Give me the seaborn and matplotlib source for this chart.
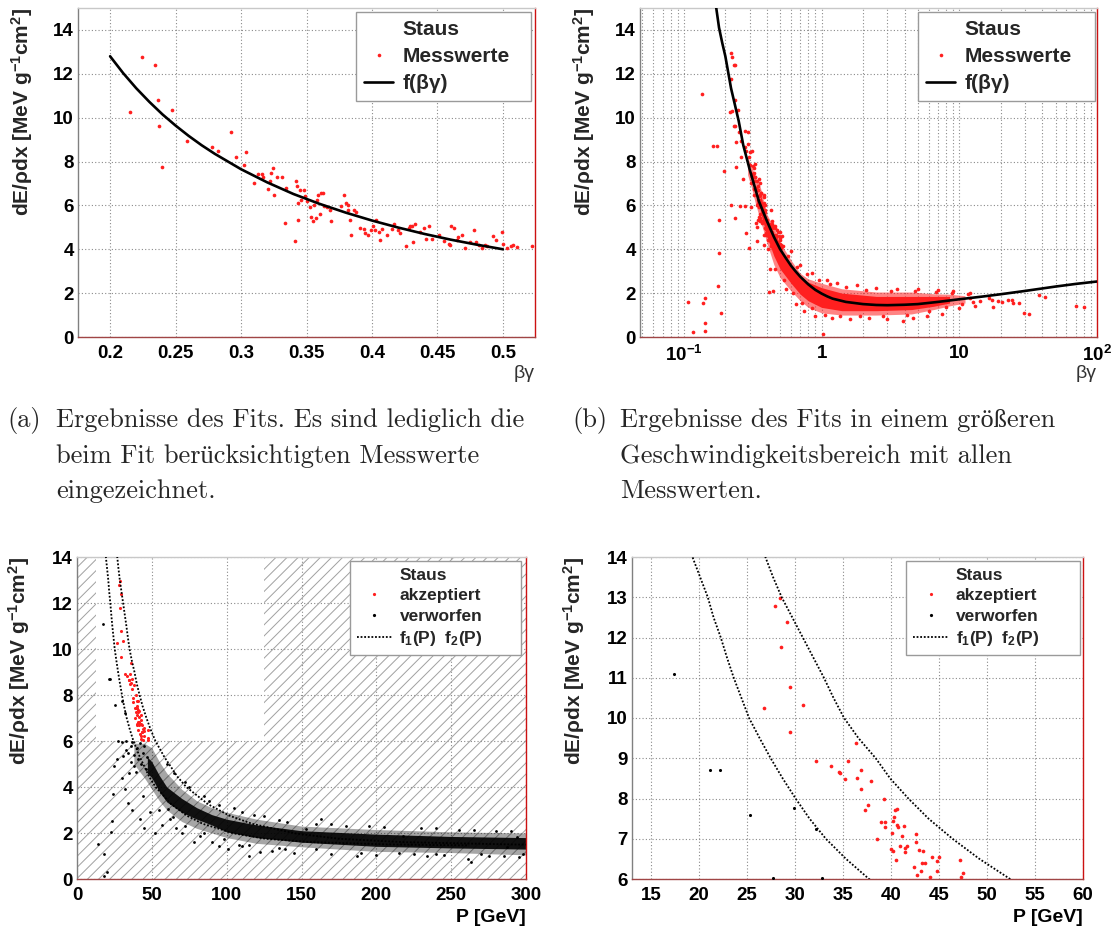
import matplotlib
matplotlib.use("Agg")
import matplotlib.pyplot as plt
import seaborn as sns
from matplotlib.lines import Line2D
from matplotlib.patches import Rectangle
from matplotlib.ticker import MultipleLocator, FuncFormatter, LogLocator, NullFormatter, FixedLocator, FixedFormatter

# ---------------- data ----------------
# (a) fit curve f(beta*gamma)
fit_a_bg = [0.20, 0.21, 0.22, 0.23, 0.24, 0.25, 0.26, 0.27, 0.28, 0.30, 0.32, 0.34, 0.36, 0.38, 0.40, 0.42,
            0.44, 0.46, 0.48, 0.50]
fit_a_dedx = [12.8, 12.03, 11.34, 10.72, 10.15, 9.64, 9.17, 8.74, 8.35, 7.65, 7.05, 6.52, 6.07, 5.67, 5.31, 4.99,
              4.70, 4.44, 4.21, 4.00]

# (a) Messwerte used in the fit
mess_a_bg = [0.215, 0.2245, 0.234, 0.2363, 0.237, 0.240, 0.2475, 0.259, 0.278, 0.2824, 0.292, 0.296, 0.304, 0.302,
             0.3097, 0.313, 0.316, 0.317, 0.3205, 0.322, 0.323, 0.3244, 0.3255, 0.3277, 0.331, 0.3337, 0.3345,
             0.341, 0.342, 0.3427, 0.3432, 0.3435, 0.345, 0.346, 0.348, 0.349, 0.3505, 0.3528, 0.3533, 0.355,
             0.356, 0.357, 0.358, 0.359, 0.360, 0.361, 0.3623, 0.3637, 0.366, 0.3678, 0.369, 0.376, 0.379,
             0.380, 0.3814, 0.382, 0.3833, 0.384, 0.3863, 0.388, 0.391, 0.3937, 0.395, 0.397, 0.399, 0.4005,
             0.402, 0.403, 0.405, 0.406, 0.408, 0.4115, 0.4155, 0.417, 0.4195, 0.4215, 0.426, 0.428, 0.429,
             0.4305, 0.431, 0.433, 0.437, 0.4395, 0.4414, 0.4436, 0.446, 0.451, 0.455, 0.4587, 0.4597, 0.4605,
             0.4624, 0.4646, 0.466, 0.4687, 0.4714, 0.475, 0.478, 0.4796, 0.4815, 0.4837, 0.486, 0.4878, 0.4925,
             0.495, 0.499, 0.500, 0.503, 0.506, 0.508, 0.5105, 0.522]
mess_a_dedx = [10.27, 12.78, 12.38, 10.8, 9.64, 7.77, 10.35, 8.94, 8.68, 8.48, 9.36, 8.22, 8.44, 7.85,
               7.01, 7.44, 7.44, 7.31, 6.75, 7.12, 7.47, 7.69, 6.48, 7.31, 7.31, 5.19, 6.81,
               4.36, 7.12, 6.89, 6.10, 5.34, 6.71, 6.25, 6.71, 6.43, 6.18, 5.92, 5.49, 5.27,
               6.02, 5.42, 6.25, 6.48, 5.61, 6.55, 6.55, 5.98, 5.92, 5.80, 5.31, 5.98, 6.48,
               6.10, 6.02, 5.77, 5.34, 4.66, 5.77, 5.72, 4.99, 4.92, 4.73, 4.63, 4.89, 5.04,
               4.89, 5.34, 4.81, 4.43, 4.92, 4.66, 4.92, 5.14, 4.86, 4.73, 4.16, 4.96, 5.07,
               5.04, 4.32, 5.16, 4.78, 4.99, 4.46, 5.04, 4.46, 4.66, 4.36, 4.24, 4.20, 5.04,
               4.96, 4.43, 4.54, 4.66, 4.05, 4.31, 4.89, 4.31, 4.20, 4.05, 4.20, 4.13, 4.61,
               4.43, 4.81, 4.25, 4.05, 4.13, 4.20, 4.10, 4.13]

# (b) fit curve over the full range
fit_b_bg = [0.160, 0.170, 0.180, 0.19, 0.20, 0.22, 0.25, 0.27, 0.30, 0.35, 0.40, 0.45, 0.50, 0.55, 0.60, 0.65,
            0.70, 0.80, 0.90, 1.0, 1.1, 1.2, 1.5, 2.0, 2.5, 3.0, 4.0, 5.0, 7.0, 10.0, 15.0, 20.0, 30.0, 50.0,
            70.0, 100.0]
fit_b_dedx = [16.5, 15.2, 14.1, 13.4, 12.8, 11.34, 9.85, 8.74, 7.65, 6.2, 5.3, 4.57, 4.0, 3.6, 3.25, 2.98,
              2.75, 2.4, 2.15, 1.98, 1.85, 1.75, 1.6, 1.5, 1.46, 1.45, 1.47, 1.5, 1.6, 1.72, 1.85, 1.95, 2.1, 2.3,
              2.42, 2.53]

# (b) dense band of measurements: outer / inner envelope
band_b_bg_out = [0.29, 0.31, 0.33, 0.36, 0.40, 0.45, 0.50, 0.60, 0.70, 0.80, 1.0, 1.4, 2.5, 4.5, 6.5, 8.5, 11.0]
band_b_lo_out = [7.4, 6.8, 6.1, 5.3, 4.3, 3.3, 2.7, 2.1, 1.65, 1.35, 1.1, 1.0, 1.0, 1.05, 1.25, 1.42, 1.55]
band_b_hi_out = [8.2, 7.8, 7.3, 6.8, 5.6, 5.0, 4.3, 3.5, 2.9, 2.65, 2.45, 2.2, 2.05, 2.05, 1.97, 1.95, 1.88]
band_b_bg_in = [0.36, 0.40, 0.45, 0.50, 0.60, 0.70, 0.80, 1.0, 1.4, 2.5, 4.5, 6.5, 8.5]
band_b_lo_in = [5.7, 4.6, 3.7, 3.1, 2.45, 1.95, 1.65, 1.35, 1.2, 1.2, 1.25, 1.4, 1.55]
band_b_hi_in = [6.5, 5.4, 4.7, 4.0, 3.25, 2.75, 2.5, 2.25, 2.0, 1.85, 1.85, 1.85, 1.85]

# (b) further single measurements
mess_b_bg = [0.1074, 0.1155, 0.1377, 0.1423, 0.1434, 0.1434, 0.1853, 0.1364, 0.1626, 0.1745, 0.196, 0.1796,
             0.1796, 0.1775, 0.219, 0.234, 0.255, 0.279, 0.282, 0.295, 0.308, 0.417, 0.446, 1.02, 0.2206,
             0.2297, 0.221, 0.2235, 0.23, 0.24, 0.25, 0.26, 0.27, 0.29, 0.32, 0.34, 0.38, 0.42, 0.55, 0.65,
             0.75, 0.9, 1.2, 1.6, 2.2, 3.0, 3.9, 4.64, 5.85, 7.5, 11.9, 14.1, 16.3, 17.2, 17.7, 19.0, 20.4,
             22.6, 24.1, 24.7, 27.0, 29.4, 31.9, 38.0, 42.2, 70.0, 80.6, 0.6, 0.7, 0.85, 1.1, 1.3, 1.8, 2.5,
             3.5, 5.0, 7.0, 9.0, 12.0, 13.0, 10.0, 0.48, 0.52, 0.35, 0.38, 0.43, 0.31, 0.28,
             0.33, 0.34, 0.36, 0.37, 0.39, 0.41, 0.44, 0.46, 0.50, 0.53, 0.57, 0.62, 0.66, 0.72, 0.78, 0.85,
             0.95, 1.05, 1.15, 1.35, 1.5, 1.9, 2.1, 2.8, 3.2, 4.2, 4.8, 6.0, 6.8, 8.0, 8.8, 10.5, 11.5, 12.5]
mess_b_dedx = [1.61, 0.24, 1.54, 1.77, 0.63, 0.27, 1.11, 11.1, 8.71, 8.71, 7.59, 5.34,
               3.82, 2.31, 6.02, 5.42, 5.95, 5.95, 4.73, 4.05, 5.92, 2.07, 2.08, 0.14, 12.93,
               12.4, 11.76, 10.3, 9.6, 8.9, 9.35, 8.2, 7.2, 8.8, 7.8, 5.0, 4.2, 3.1, 2.2, 1.5,
               1.2, 0.95, 0.85, 0.8, 0.85, 0.8, 0.71, 0.87, 0.94, 1.05, 1.78, 1.62, 1.78, 1.69, 1.38, 1.62, 1.61,
               1.7, 1.69, 1.55, 1.54, 1.09, 1.05, 1.93, 1.84, 1.4, 1.38, 3.9, 3.3, 2.9, 2.6, 2.45, 2.35, 2.25,
               2.2, 2.2, 2.15, 2.1, 2.0, 1.4, 1.3, 4.8, 4.6, 7.2, 6.4, 5.8, 8.5, 9.4,
               7.9, 6.0, 7.0, 5.2, 6.0, 4.0, 5.3, 3.1, 4.5, 2.6, 3.7, 2.0, 3.2, 1.55, 2.85, 1.3,
               2.6, 1.0, 2.4, 0.95, 2.3, 0.95, 2.15, 0.95, 2.1, 1.0, 2.1, 1.2, 2.05, 1.35, 2.0, 1.5, 1.95, 1.6]

# (c)/(d) selection curves f1(P), f2(P)
sel_dedx = [14.5, 14.0, 13.5, 13.0, 12.5, 12.0, 11.5, 11.0, 10.5, 10.0, 9.5, 9.0, 8.5, 8.0, 7.5, 7.0, 6.5, 6.0,
            5.3, 4.44, 4.0, 3.25, 2.75, 2.4, 1.98, 1.75, 1.6, 1.5, 1.46]
f1_P = [18.6, 19.3, 20.1, 20.9, 21.5, 22.25, 22.9, 23.6, 24.4, 25.2, 26.3, 27.45, 28.7, 30.05, 31.5, 33.2, 35.3, 37.7,
        42.0, 48.3, 52.5, 63.0, 73.5, 84.0, 105.0, 126.0, 157.5, 210.0, 262.0]
f2_P = [25.9, 26.9, 27.7, 28.6, 29.7, 30.8, 31.9, 33.0, 34.0, 35.1, 36.6, 38.4, 39.9, 41.8, 43.9, 46.4, 49.2, 52.4,
        58.4, 67.2, 73.0, 87.6, 102.0, 117.0, 146.0, 175.0, 219.0, 292.0, 365.0]

# (c)/(d) accepted staus
akz_P = [28.46, 27.9, 29.2, 28.57, 29.42, 26.71, 30.8, 29.5, 32.2, 33.7, 34.6, 34.67, 35.56, 35.15, 36.4, 36.86,
         36.3, 36.86, 37.86, 39.24, 37.57, 37.23, 38.53, 38.98, 39.35, 39.35, 40.4, 40.6, 40.35, 40.17, 40.65,
         40.7, 40.1, 41.3, 41.1, 39.95, 40.2, 40.5, 40.9, 41.47, 41.65, 41.43, 42.58, 42.62, 42.88, 43.36, 42.4,
         43.18, 43.5, 43.07, 42.7, 44.3, 44.74, 45.04, 44.74, 44.07, 47.16, 47.45, 47.3]
akz_dedx = [12.97, 12.78, 12.38, 11.77, 10.78, 10.26, 10.33, 9.64, 8.93, 8.81, 8.67, 8.64, 8.93, 8.48, 8.52, 8.70,
            9.37, 8.24, 8.43, 7.99, 7.85, 7.71, 7.00, 7.42, 7.42, 7.28, 7.72, 7.74, 7.53, 7.44, 7.34,
            7.28, 7.15, 7.31, 7.06, 6.74, 6.70, 6.47, 6.82, 6.76, 6.82, 6.68, 7.13, 6.91, 6.72, 6.69, 6.31,
            6.39, 6.39, 6.21, 6.10, 6.54, 6.45, 6.55, 6.21, 6.04, 6.47, 6.14, 6.06]

# (c)/(d) rejected staus (single points)
verw_P = [17.34, 21.13, 22.2, 25.3, 29.87, 32.17, 27.7, 32.77, 14.3, 17.9, 18.3, 19.8, 22.6, 23.1, 23.8, 29.8,
          31.0, 36.9, 39.3, 44.0, 48.8, 60.7, 57.0, 82.0, 101.0, 115.0, 122.6, 139.0, 153.0, 163.0, 187.0,
          218.0, 234.0, 261.0, 263.0, 287.0, 294.0, 34.0, 36.0, 38.0, 40.0, 41.0, 42.0, 43.0, 44.0, 45.0,
          46.0, 47.0, 38.0, 36.0, 33.0, 35.0, 27.0, 25.0, 30.0, 32.0, 34.0, 37.0, 42.0, 45.0, 52.0, 55.0,
          62.0, 66.0, 70.0, 78.0, 90.0, 95.0, 108.0, 130.0, 145.0, 170.0, 200.0, 225.0, 245.0, 270.0, 285.0,
          298.0, 60.0, 65.0, 75.0, 85.0, 95.0, 110.0, 125.0, 140.0, 160.0, 180.0, 205.0, 230.0, 255.0, 280.0, 110.0,
          64.0, 72.0, 85.0, 98.0, 115.0, 135.0, 160.0, 190.0, 215.0, 240.0, 275.0, 295.0, 72.0, 88.0, 105.0,
          118.0, 135.0, 170.0, 195.0, 240.0, 265.0, 290.0]
verw_dedx = [11.1, 8.70, 8.71, 7.58, 7.76, 7.23, 6.02, 6.02, 1.53, 1.09, 0.15, 0.29, 2.03, 2.54, 3.70, 5.96,
             5.35, 5.96, 4.65, 3.63, 2.90, 3.05, 2.33, 1.89, 1.30, 1.00, 1.16, 1.30, 2.18, 2.60, 1.00,
             1.89, 1.00, 0.87, 0.73, 1.38, 1.82, 5.5, 5.8, 5.4, 5.7, 5.2, 5.9, 5.0, 5.5, 5.8,
             4.8, 5.3, 4.9, 5.1, 5.6, 4.6, 5.2, 4.9, 4.4, 3.9, 3.3, 3.0, 2.6, 2.2, 2.0, 3.0,
             2.6, 2.2, 2.0, 1.6, 1.6, 1.45, 1.5, 1.2, 1.15, 1.1, 1.05, 1.1, 1.05, 1.1, 1.0,
             1.1, 5.0, 4.6, 4.0, 3.6, 3.2, 2.9, 2.75, 2.5, 2.4, 2.3, 2.25, 2.2, 2.15, 2.1, 1.45,
             2.7, 2.3, 2.0, 1.75, 1.5, 1.35, 1.3, 1.15, 1.12, 1.1, 1.0, 0.95, 4.2, 3.4, 3.1,
             2.8, 2.55, 2.4, 2.3, 2.2, 2.15, 2.1]

# (c) dense band of rejected staus: outer / inner envelope
band_c_P_out = [38, 45, 50, 55, 60, 70, 80, 90, 100, 120, 150, 200, 250, 300]
band_c_lo_out = [5.0, 4.4, 3.9, 3.4, 3.0, 2.5, 2.2, 2.0, 1.8, 1.55, 1.4, 1.2, 1.15, 1.05]
band_c_hi_out = [5.9, 5.9, 5.7, 5.1, 4.6, 3.9, 3.4, 3.1, 2.9, 2.6, 2.3, 2.15, 2.05, 2.0]
band_c_P_in = [47, 50, 55, 60, 70, 80, 90, 100, 120, 150, 200, 250, 300]
band_c_lo_in = [4.6, 4.4, 3.8, 3.35, 2.9, 2.6, 2.35, 2.05, 1.8, 1.6, 1.42, 1.35, 1.3]
band_c_hi_in = [5.3, 5.1, 4.5, 4.0, 3.5, 3.1, 2.8, 2.6, 2.35, 2.1, 1.95, 1.85, 1.8]

# (c) cut region that is kept (outside is hatched)
cut_P_min, cut_P_max, cut_dedx_min = 12.5, 125.0, 6.0

captions_a = ["Ergebnisse des Fits. Es sind lediglich die", "beim Fit berücksichtigten Messwerte", "eingezeichnet."]
captions_b = ["Ergebnisse des Fits in einem größeren", "Geschwindigkeitsbereich mit allen", "Messwerten."]

# ---------------- style ----------------
sns.set_style("white")
plt.rcParams['font.family'] = ['Liberation Sans', 'DejaVu Sans']
plt.rcParams['font.weight'] = 'bold'
plt.rcParams['mathtext.fontset'] = 'custom'
plt.rcParams['mathtext.rm'] = 'Liberation Sans:bold'
plt.rcParams['mathtext.it'] = 'Liberation Sans:bold'
plt.rcParams['mathtext.bf'] = 'Liberation Sans:bold'
plt.rcParams['mathtext.sf'] = 'Liberation Sans:bold'
plt.rcParams['hatch.linewidth'] = 0.7

RED = (1.0, 0.12, 0.12)
GRIDKW = dict(color='#8a8a8a', linestyle=(0, (1, 2)), linewidth=0.8)
YLABEL = 'dE/ρdx [MeV g$^{-1}$cm$^{2}$]'

fig = plt.figure(figsize=(11.18, 9.31), dpi=100)
W, H = 1118.0, 931.0


def add_ax(x0, y0, x1, y1):
    return fig.add_axes([x0 / W, 1 - y1 / H, (x1 - x0) / W, (y1 - y0) / H])


def style_ax(ax, ylabel_x, xlabel, xlabel_bold, xlabel_y):
    ax.spines['left'].set_color('#808080')
    ax.spines['bottom'].set_color('#a04545')
    ax.spines['right'].set_color('#cc1111')
    ax.spines['top'].set_color('#c8c8c8')
    for s in ax.spines.values():
        s.set_linewidth(1.0)
    ax.tick_params(which='both', direction='in', top=False, right=False, color='#707070',
                   labelcolor='black', labelsize=13.5)
    ax.tick_params(which='major', length=7, width=0.8)
    ax.tick_params(which='minor', length=3.5, width=0.7)
    ax.tick_params(axis='x', which='major', pad=6)
    ax.tick_params(axis='y', which='major', pad=3)
    ax.set_ylabel(YLABEL, loc='top', fontsize=15, fontweight='bold')
    ax.yaxis.set_label_coords(ylabel_x, 1.0)
    ax.set_xlabel(xlabel, loc='right', fontsize=14,
                  fontweight='bold' if xlabel_bold else 'normal',
                  color='black' if xlabel_bold else '#333333')
    ax.xaxis.set_label_coords(1.0, xlabel_y)
    ax.set_axisbelow(True)


def legend(ax, handles, labels, x0, x1, size, hl, spacing):
    leg = ax.legend(handles, labels, loc='upper left', bbox_to_anchor=(x0, 0.988, x1 - x0, 0),
                    mode='expand', frameon=True, fancybox=False, framealpha=1, edgecolor='#9a9a9a',
                    borderpad=0.4, handlelength=hl, handletextpad=0.45, labelspacing=spacing,
                    borderaxespad=0, prop={'size': size, 'weight': 'bold'})
    leg.get_frame().set_linewidth(1.0)
    return leg


fmt_g = FuncFormatter(lambda v, p: '%g' % round(v, 6))

# ---------------- (a) ----------------
axa = add_ax(78, 8, 535, 337)
axa.grid(True, which='major', **GRIDKW)
sns.scatterplot(x=mess_a_bg, y=mess_a_dedx, ax=axa, s=7, color=RED, linewidth=0, legend=False, zorder=3)
sns.lineplot(x=fit_a_bg, y=fit_a_dedx, ax=axa, color='black', linewidth=1.9, sort=False, estimator=None, zorder=4)
axa.set_xlim(0.1755, 0.5245)
axa.set_ylim(0, 15)
axa.xaxis.set_major_locator(MultipleLocator(0.05))
axa.xaxis.set_minor_locator(MultipleLocator(0.01))
axa.xaxis.set_major_formatter(fmt_g)
axa.yaxis.set_major_locator(MultipleLocator(2))
axa.yaxis.set_minor_locator(MultipleLocator(0.5))
style_ax(axa, -0.095, 'βγ', False, -0.085)
h_head = Line2D([], [], linestyle='none')
h_red = Line2D([], [], linestyle='none', marker='o', markersize=2.6, markerfacecolor=RED, markeredgewidth=0)
h_fit = Line2D([], [], color='black', linewidth=1.9)
legend(axa, [h_head, h_red, h_fit], ['Staus', 'Messwerte', 'f(βγ)'], 0.608, 0.991, 15, 1.4, 0.38)

# ---------------- (b) ----------------
axb = add_ax(640, 8, 1097, 337)
axb.set_xscale('log')
axb.grid(True, which='major', **GRIDKW)
axb.grid(True, which='minor', axis='x', **GRIDKW)
axb.fill_between(band_b_bg_out, band_b_lo_out, band_b_hi_out, color=RED, alpha=0.55, linewidth=0, zorder=2)
axb.fill_between(band_b_bg_in, band_b_lo_in, band_b_hi_in, color=RED, alpha=1.0, linewidth=0, zorder=2)
sns.scatterplot(x=mess_b_bg + mess_a_bg, y=mess_b_dedx + mess_a_dedx, ax=axb, s=7, color=RED,
                linewidth=0, legend=False, zorder=3)
sns.lineplot(x=fit_b_bg, y=fit_b_dedx, ax=axb, color='black', linewidth=1.9, sort=False, estimator=None, zorder=4)
axb.set_xlim(0.048, 100)
axb.set_ylim(0, 15)
axb.xaxis.set_major_locator(FixedLocator([0.1, 1, 10, 100]))
axb.xaxis.set_major_formatter(FixedFormatter(['10$^{-1}$', '1', '10', '10$^{2}$']))
axb.xaxis.set_minor_locator(LogLocator(base=10, subs=[2, 3, 4, 5, 6, 7, 8, 9], numticks=20))
axb.xaxis.set_minor_formatter(NullFormatter())
axb.yaxis.set_major_locator(MultipleLocator(2))
axb.yaxis.set_minor_locator(MultipleLocator(0.5))
style_ax(axb, -0.095, 'βγ', False, -0.085)
legend(axb, [h_head, h_red, h_fit], ['Staus', 'Messwerte', 'f(βγ)'], 0.608, 0.996, 15, 1.4, 0.38)

# ---------------- (c) ----------------
axc = add_ax(77, 557, 526, 879)
axc.grid(True, which='major', **GRIDKW)
hatch_kw = dict(facecolor='none', edgecolor='#a0a0a0', hatch='///', linewidth=0, zorder=1)
axc.add_patch(Rectangle((0, 0), cut_P_min, 14, **hatch_kw))
axc.add_patch(Rectangle((cut_P_min, 0), 300 - cut_P_min, cut_dedx_min, **hatch_kw))
axc.add_patch(Rectangle((cut_P_max, cut_dedx_min), 300 - cut_P_max, 14 - cut_dedx_min, **hatch_kw))
axc.fill_between(band_c_P_out, band_c_lo_out, band_c_hi_out, color='black', alpha=0.35, linewidth=0, zorder=2)
axc.fill_between(band_c_P_in, band_c_lo_in, band_c_hi_in, color='black', alpha=0.9, linewidth=0, zorder=2)
sns.scatterplot(x=verw_P, y=verw_dedx, ax=axc, s=4, color='black', linewidth=0, legend=False, zorder=3)
sns.scatterplot(x=akz_P, y=akz_dedx, ax=axc, s=5, color=RED, linewidth=0, legend=False, zorder=3)
sel_kw = dict(color='black', linewidth=1.3, linestyle=(0, (1, 1)), sort=False, estimator=None, zorder=4)
sns.lineplot(x=f1_P, y=sel_dedx, ax=axc, **sel_kw)
sns.lineplot(x=f2_P, y=sel_dedx, ax=axc, **sel_kw)
axc.set_xlim(0, 300)
axc.set_ylim(0, 14)
axc.xaxis.set_major_locator(MultipleLocator(50))
axc.xaxis.set_minor_locator(MultipleLocator(10))
axc.yaxis.set_major_locator(MultipleLocator(2))
axc.yaxis.set_minor_locator(MultipleLocator(0.5))
style_ax(axc, -0.10, 'P [GeV]', True, -0.093)
h_akz = Line2D([], [], linestyle='none', marker='o', markersize=2.3, markerfacecolor=RED, markeredgewidth=0)
h_verw = Line2D([], [], linestyle='none', marker='o', markersize=2.3, markerfacecolor='black', markeredgewidth=0)
h_sel = Line2D([], [], color='black', linewidth=1.3, linestyle=(0, (1, 1)))
lab_c = ['Staus', 'akzeptiert', 'verworfen', 'f$_1$(P)  f$_2$(P)']
legend(axc, [h_head, h_akz, h_verw, h_sel], lab_c, 0.608, 0.989, 12.5, 2.0, 0.3)

# ---------------- (d) ----------------
axd = add_ax(632, 557, 1083, 879)
axd.grid(True, which='major', **GRIDKW)
sns.scatterplot(x=verw_P, y=verw_dedx, ax=axd, s=5, color='black', linewidth=0, legend=False, zorder=3)
sns.scatterplot(x=akz_P, y=akz_dedx, ax=axd, s=7, color=RED, linewidth=0, legend=False, zorder=3)
sns.lineplot(x=f1_P, y=sel_dedx, ax=axd, **sel_kw)
sns.lineplot(x=f2_P, y=sel_dedx, ax=axd, **sel_kw)
axd.set_xlim(13, 60)
axd.set_ylim(6, 14)
axd.xaxis.set_major_locator(MultipleLocator(5))
axd.xaxis.set_minor_locator(MultipleLocator(1))
axd.yaxis.set_major_locator(MultipleLocator(1))
axd.yaxis.set_minor_locator(MultipleLocator(0.2))
style_ax(axd, -0.10, 'P [GeV]', True, -0.093)
legend(axd, [h_head, h_akz, h_verw, h_sel], lab_c, 0.608, 0.993, 12.5, 2.0, 0.3)

# ---------------- captions ----------------
cap_font = dict(family=['cmr10', 'Liberation Serif'], fontsize=19, fontweight='normal', va='center', ha='left')
for i, ya in enumerate([420, 456, 491]):
    fig.text(56 / W, 1 - ya / H, captions_a[i], **cap_font)
    fig.text(620 / W, 1 - ya / H, captions_b[i], **cap_font)
fig.text(7 / W, 1 - 420 / H, '(a)', **cap_font)
fig.text(572 / W, 1 - 420 / H, '(b)', **cap_font)

fig.savefig('out.png', dpi=100)
